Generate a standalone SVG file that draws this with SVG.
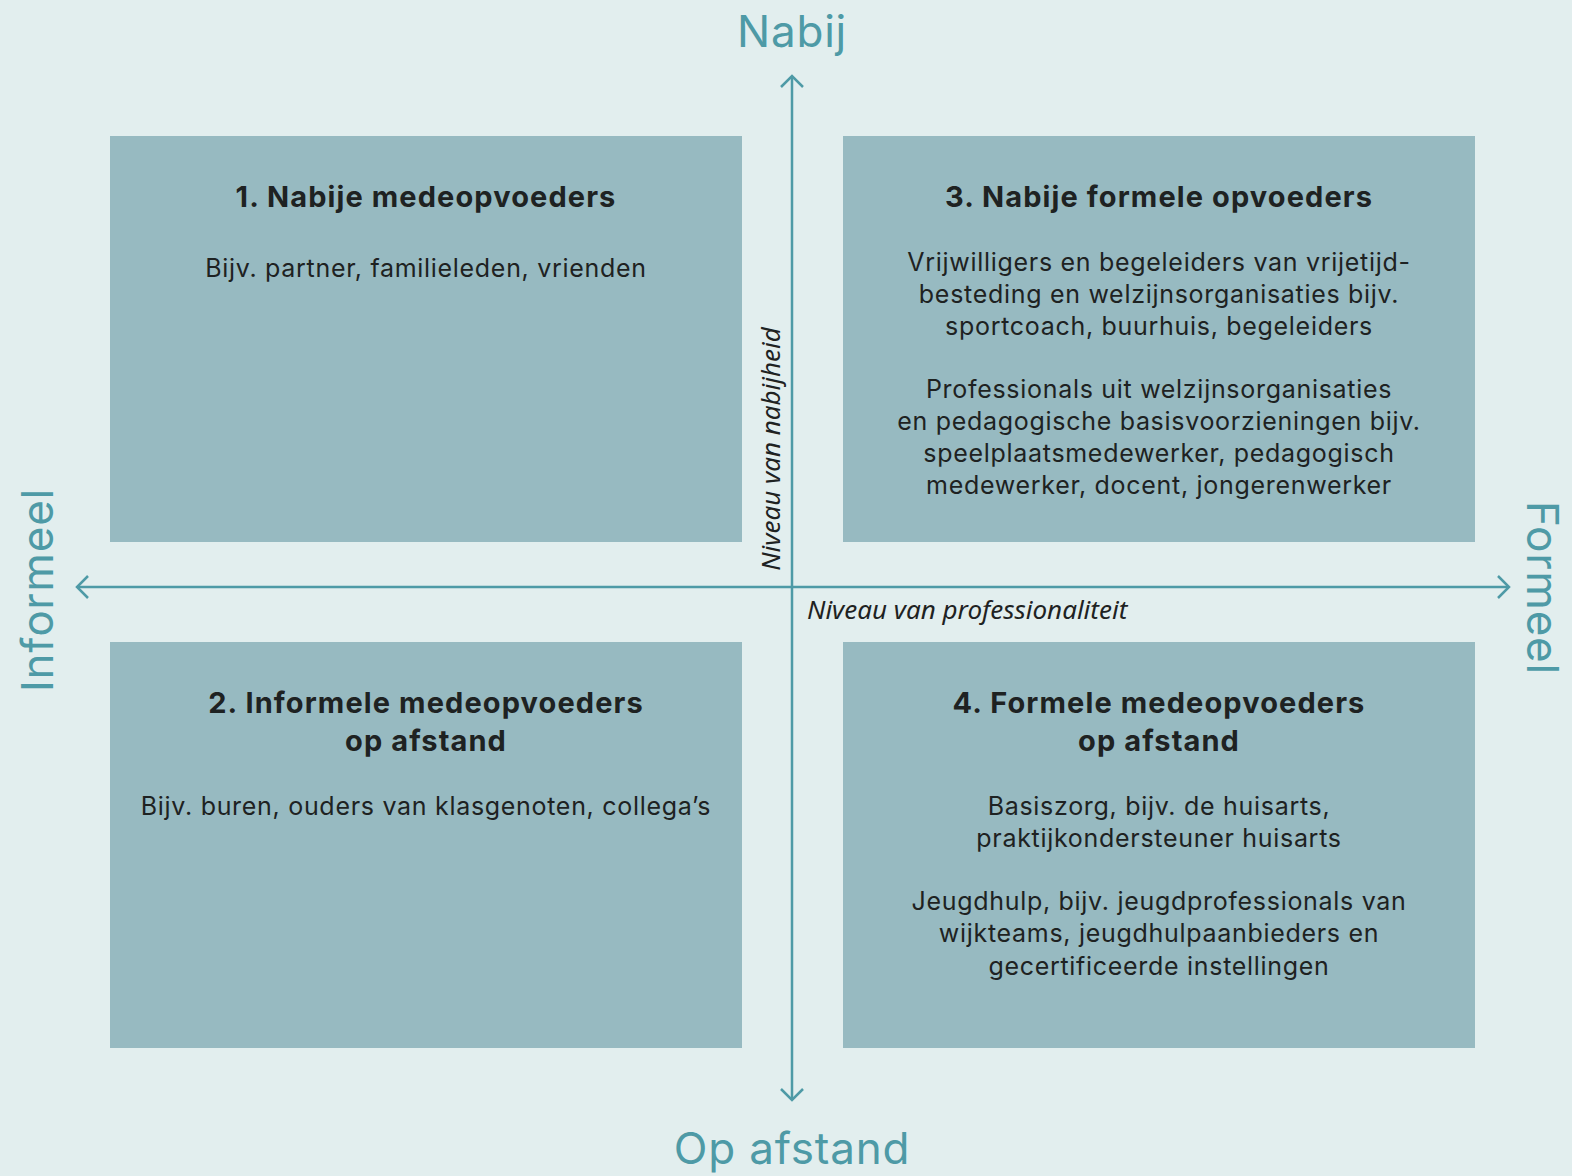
<svg xmlns="http://www.w3.org/2000/svg" width="1572" height="1176" viewBox="0 0 1572 1176">
<style>
.box{fill:#97bac1}
.t{font-family:Inter,"Noto Sans","Liberation Sans",sans-serif;font-weight:700;font-size:29px;letter-spacing:1.1px;fill:#1e2222;text-anchor:middle}
.b{font-family:Inter,"Noto Sans","Liberation Sans",sans-serif;font-size:25px;letter-spacing:0.7px;fill:#1e2222;text-anchor:middle}
.ax{font-family:Inter,"Noto Sans","Liberation Sans",sans-serif;font-size:44px;letter-spacing:0.8px;fill:#4e9aa6;text-anchor:middle}
.it{font-family:"Noto Sans","Liberation Sans",sans-serif;font-style:italic;font-size:26px;fill:#1e2222}
.ln{stroke:#4e9aa6;stroke-width:2.5;fill:none}
</style>
<rect width="1572" height="1176" fill="#e2eeee"/>
<g id="q1">
<rect class="box" x="110" y="136" width="632" height="406"/>
<text class="t" x="426" y="207">1. Nabije medeopvoeders</text>
<text class="b" x="426" y="277">Bijv. partner, familieleden, vrienden</text>
</g>
<g id="q3">
<rect class="box" x="843" y="136" width="632" height="406"/>
<text class="t" x="1159" y="207">3. Nabije formele opvoeders</text>
<text class="b" x="1159" y="271">Vrijwilligers en begeleiders van vrijetijd-</text>
<text class="b" x="1159" y="303">besteding en welzijnsorganisaties bijv.</text>
<text class="b" x="1159" y="335">sportcoach, buurhuis, begeleiders</text>
<text class="b" x="1159" y="398">Professionals uit welzijnsorganisaties</text>
<text class="b" x="1159" y="430">en pedagogische basisvoorzieningen bijv.</text>
<text class="b" x="1159" y="462">speelplaatsmedewerker, pedagogisch</text>
<text class="b" x="1159" y="494">medewerker, docent, jongerenwerker</text>
</g>
<g id="q2">
<rect class="box" x="110" y="642" width="632" height="406"/>
<text class="t" x="426" y="713">2. Informele medeopvoeders</text>
<text class="t" x="426" y="751">op afstand</text>
<text class="b" x="426" y="815">Bijv. buren, ouders van klasgenoten, collega’s</text>
</g>
<g id="q4">
<rect class="box" x="843" y="642" width="632" height="406"/>
<text class="t" x="1159" y="713">4. Formele medeopvoeders</text>
<text class="t" x="1159" y="751">op afstand</text>
<text class="b" x="1159" y="815">Basiszorg, bijv. de huisarts,</text>
<text class="b" x="1159" y="847">praktijkondersteuner huisarts</text>
<text class="b" x="1159" y="910">Jeugdhulp, bijv. jeugdprofessionals van</text>
<text class="b" x="1159" y="942">wijkteams, jeugdhulpaanbieders en</text>
<text class="b" x="1159" y="975">gecertificeerde instellingen</text>
</g>
<g id="connectors">
<line class="ln" x1="792" y1="76" x2="792" y2="1100"/>
<polyline class="ln" points="781,87 792,76 803,87"/>
<polyline class="ln" points="781,1089 792,1100 803,1089"/>
<line class="ln" x1="77" y1="587" x2="1509" y2="587"/>
<polyline class="ln" points="88,576 77,587 88,598"/>
<polyline class="ln" points="1498,576 1509,587 1498,598"/>
</g>
<g id="labels">
<text class="ax" x="792" y="47">Nabij</text>
<text class="ax" x="792" y="1164">Op afstand</text>
<text class="ax" transform="translate(53,590) rotate(-90)">Informeel</text>
<text class="ax" transform="translate(1527,588) rotate(90)">Formeel</text>
<text class="it" transform="translate(780,449) rotate(-90)" text-anchor="middle">Niveau van nabijheid</text>
<text class="it" x="807" y="619">Niveau van professionaliteit</text>
</g>
</svg>
